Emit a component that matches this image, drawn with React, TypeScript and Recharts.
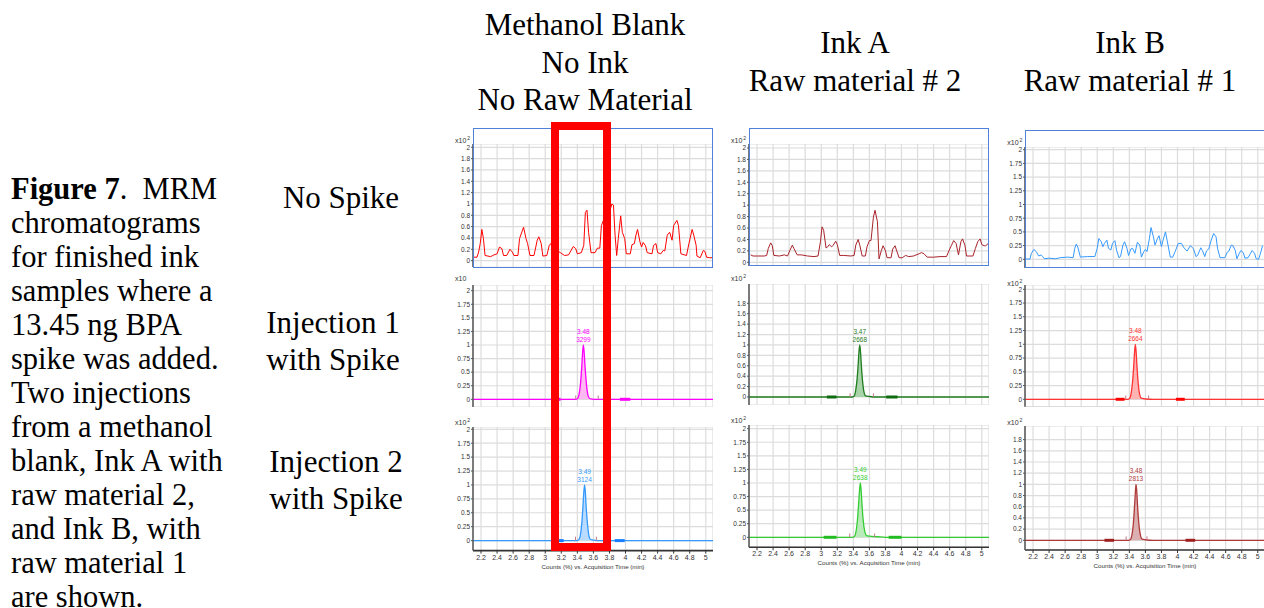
import React from 'react';
import { ComposedChart, Line, Area, XAxis, YAxis, CartesianGrid, ReferenceLine, ReferenceDot } from 'recharts';

type Pt = [number, number];

// axis ticks
const timeTicks = [2.2, 2.4, 2.6, 2.8, 3, 3.2, 3.4, 3.6, 3.8, 4, 4.2, 4.4, 4.6, 4.8, 5];
const countTicksFine = [0, 0.2, 0.4, 0.6, 0.8, 1, 1.2, 1.4, 1.6, 1.8, 2];
const countTicksQuarter = [0, 0.25, 0.5, 0.75, 1, 1.25, 1.5, 1.75, 2];
const countTicksShort = [0, 0.2, 0.4, 0.6, 0.8, 1, 1.2, 1.4, 1.6, 1.8];

// row 1 - no spike, [time (min), counts]
const blankNoSpike: Pt[] = [
  [2.11, 0.06], [2.15, 0.06], [2.17, 0.15], [2.19, 0.3], [2.21, 0.55], [2.23, 0.39], [2.25, 0.09], [2.32, 0.07],
  [2.36, 0.1], [2.4, 0.12], [2.43, 0.24], [2.46, 0.21], [2.48, 0.09], [2.52, 0.09], [2.56, 0.2], [2.59, 0.15],
  [2.61, 0.09], [2.66, 0.09], [2.68, 0.39], [2.73, 0.59], [2.76, 0.39], [2.78, 0.3], [2.81, 0.09], [2.86, 0.09],
  [2.9, 0.36], [2.92, 0.42], [2.95, 0.3], [2.97, 0.08], [3.02, 0.09], [3.05, 0.27], [3.07, 0.3], [3.09, 0.2],
  [3.14, 0.18], [3.19, 0.14], [3.24, 0.09], [3.29, 0.1], [3.35, 0.25], [3.38, 0.21], [3.4, 0.12], [3.45, 0.14],
  [3.48, 0.27], [3.5, 0.85], [3.52, 0.89], [3.54, 0.5], [3.57, 0.14], [3.62, 0.14], [3.65, 0.22], [3.68, 0.22],
  [3.7, 0.62], [3.73, 0.73], [3.79, 0.8], [3.83, 1.0], [3.85, 0.98], [3.87, 0.45], [3.89, 0.09], [3.91, 0.39],
  [3.94, 0.79], [3.96, 0.5], [3.99, 0.39], [4.01, 0.12], [4.06, 0.12], [4.08, 0.28], [4.11, 0.3], [4.13, 0.45],
  [4.15, 0.55], [4.18, 0.33], [4.2, 0.24], [4.22, 0.32], [4.25, 0.26], [4.27, 0.14], [4.33, 0.12], [4.35, 0.27],
  [4.38, 0.3], [4.4, 0.14], [4.44, 0.12], [4.47, 0.18], [4.49, 0.17], [4.52, 0.45], [4.55, 0.5], [4.58, 0.36],
  [4.6, 0.62], [4.64, 0.71], [4.66, 0.62], [4.69, 0.12], [4.76, 0.09], [4.79, 0.3], [4.83, 0.55], [4.85, 0.45],
  [4.88, 0.27], [4.89, 0.08], [4.93, 0.05], [4.97, 0.18], [4.99, 0.16], [5.01, 0.06], [5.05, 0.05], [5.09, 0.05],
];

const inkANoSpike: Pt[] = [
  [2.12, 0.13], [2.15, 0.11], [2.21, 0.11], [2.29, 0.11], [2.32, 0.12], [2.34, 0.24], [2.37, 0.34], [2.39, 0.29],
  [2.41, 0.12], [2.48, 0.11], [2.54, 0.13], [2.58, 0.11], [2.61, 0.21], [2.64, 0.3], [2.66, 0.24], [2.7, 0.13],
  [2.75, 0.13], [2.83, 0.11], [2.91, 0.1], [2.96, 0.11], [2.99, 0.36], [3.01, 0.62], [3.03, 0.56], [3.06, 0.25],
  [3.08, 0.27], [3.1, 0.31], [3.13, 0.27], [3.15, 0.3], [3.18, 0.37], [3.2, 0.31], [3.23, 0.12], [3.28, 0.12],
  [3.37, 0.11], [3.41, 0.12], [3.43, 0.3], [3.46, 0.4], [3.48, 0.3], [3.51, 0.11], [3.55, 0.11], [3.57, 0.27],
  [3.6, 0.38], [3.62, 0.38], [3.65, 0.79], [3.67, 0.91], [3.7, 0.71], [3.72, 0.06], [3.75, 0.21], [3.77, 0.29],
  [3.8, 0.2], [3.82, 0.08], [3.87, 0.08], [3.89, 0.23], [3.92, 0.29], [3.94, 0.2], [3.97, 0.08], [4.01, 0.08],
  [4.05, 0.12], [4.09, 0.1], [4.15, 0.11], [4.22, 0.15], [4.25, 0.17], [4.28, 0.15], [4.32, 0.09], [4.4, 0.09],
  [4.48, 0.1], [4.56, 0.1], [4.6, 0.23], [4.62, 0.29], [4.65, 0.38], [4.68, 0.33], [4.71, 0.13], [4.74, 0.36],
  [4.76, 0.41], [4.79, 0.3], [4.81, 0.11], [4.89, 0.11], [4.92, 0.24], [4.95, 0.36], [4.98, 0.41], [5.0, 0.31],
  [5.03, 0.29], [5.05, 0.29], [5.08, 0.33],
];

const inkBNoSpike: Pt[] = [
  [2.1, 0.01], [2.16, 0], [2.18, 0.11], [2.21, 0.18], [2.24, 0.14], [2.27, 0.06], [2.3, 0.08], [2.32, 0.05],
  [2.34, 0.01], [2.4, 0.02], [2.48, 0.01], [2.54, 0.03], [2.63, 0.04], [2.7, 0.03], [2.72, 0.2], [2.74, 0.28],
  [2.76, 0.21], [2.79, 0.04], [2.88, 0.05], [2.97, 0.05], [3.0, 0.2], [3.02, 0.38], [3.05, 0.32], [3.07, 0.23],
  [3.09, 0.29], [3.12, 0.35], [3.14, 0.2], [3.17, 0.17], [3.19, 0.29], [3.22, 0.34], [3.24, 0.17], [3.27, 0.03],
  [3.29, 0.05], [3.32, 0.26], [3.34, 0.32], [3.37, 0.2], [3.39, 0.07], [3.42, 0.19], [3.44, 0.2], [3.47, 0.11],
  [3.5, 0.31], [3.53, 0.26], [3.55, 0.04], [3.58, 0.14], [3.6, 0.18], [3.62, 0.14], [3.65, 0.38], [3.67, 0.58],
  [3.7, 0.41], [3.72, 0.26], [3.75, 0.38], [3.77, 0.43], [3.8, 0.23], [3.82, 0.35], [3.85, 0.5], [3.87, 0.35],
  [3.91, 0.04], [3.94, 0.04], [3.97, 0.14], [4.01, 0.29], [4.05, 0.29], [4.08, 0.21], [4.12, 0.15], [4.16, 0.25],
  [4.2, 0.19], [4.23, 0.05], [4.25, 0.07], [4.29, 0.21], [4.31, 0.16], [4.34, 0.05], [4.36, 0.15], [4.39, 0.19],
  [4.42, 0.35], [4.45, 0.47], [4.48, 0.41], [4.5, 0.19], [4.53, 0.03], [4.59, 0.03], [4.62, 0.13], [4.64, 0.15],
  [4.67, 0.26], [4.69, 0.25], [4.72, 0.16], [4.74, 0.01], [4.77, 0.11], [4.79, 0.16], [4.82, 0.12], [4.84, 0.02],
  [4.88, 0.03], [4.91, 0.11], [4.93, 0.16], [4.96, 0.11], [4.98, 0.01], [5.01, 0], [5.03, 0.09], [5.06, 0.25],
];

// rows 2-3 - spiked injections (BPA peak)
const blankInj1: Pt[] = [
  [2.1, 0], [3.38, 0], [3.4, 0.01], [3.42, 0.08], [3.44, 0.3], [3.455, 0.6], [3.465, 0.85], [3.475, 1],
  [3.485, 0.86], [3.495, 0.62], [3.51, 0.33], [3.53, 0.09], [3.55, 0.02], [3.58, 0.005], [3.65, 0], [5.09, 0],
];
const inkAInj1: Pt[] = [
  [2.1, 0], [3.385, 0], [3.405, 0.01], [3.425, 0.09], [3.445, 0.32], [3.46, 0.62], [3.47, 0.87], [3.48, 1],
  [3.49, 0.85], [3.5, 0.6], [3.515, 0.3], [3.535, 0.08], [3.555, 0.02], [3.6, 0.01], [3.68, 0], [5.09, 0],
];
const inkBInj1: Pt[] = [
  [2.1, 0], [3.38, 0], [3.4, 0.01], [3.42, 0.09], [3.44, 0.32], [3.455, 0.62], [3.465, 0.86], [3.475, 1],
  [3.485, 0.85], [3.495, 0.6], [3.51, 0.3], [3.53, 0.08], [3.55, 0.02], [3.6, 0.005], [3.7, 0], [5.09, 0],
];
const blankInj2: Pt[] = [
  [2.1, 0], [3.39, 0], [3.415, 0.01], [3.435, 0.08], [3.455, 0.3], [3.47, 0.62], [3.48, 0.86], [3.49, 1],
  [3.5, 0.87], [3.51, 0.6], [3.525, 0.32], [3.545, 0.08], [3.565, 0.02], [3.6, 0.01], [3.66, 0], [5.09, 0],
];
const inkAInj2: Pt[] = [
  [2.1, 0], [3.385, 0], [3.41, 0.01], [3.43, 0.08], [3.45, 0.3], [3.465, 0.6], [3.477, 0.86], [3.487, 1],
  [3.497, 0.87], [3.507, 0.62], [3.522, 0.32], [3.545, 0.09], [3.565, 0.03], [3.6, 0.02], [3.7, 0.01], [3.8, 0], [5.09, 0],
];
const inkBInj2: Pt[] = [
  [2.1, 0], [3.39, 0], [3.41, 0.01], [3.43, 0.08], [3.45, 0.3], [3.465, 0.62], [3.475, 0.86], [3.483, 1],
  [3.493, 0.86], [3.503, 0.6], [3.518, 0.3], [3.54, 0.08], [3.56, 0.02], [3.6, 0.01], [3.7, 0], [5.09, 0],
];

// peak annotations: apex time, label time, area, integration limits, noise regions
const peakApex = [3.475, 3.48, 3.475, 3.49, 3.487, 3.483];
const peakTimes = ['3.48', '3.47', '3.48', '3.49', '3.49', '3.48'];
const peakAreas = ['3299', '2668', '2664', '3124', '2638', '2813'];
const peakLimits: Pt[] = [[3.38, 3.66], [3.36, 3.65], [3.355, 3.64], [3.377, 3.637], [3.355, 3.665], [3.36, 3.62]];
const noiseRegions: Pt[][] = [
  [[3.08, 3.19], [3.93, 4.06]],
  [[3.07, 3.19], [3.81, 3.95]],
  [[3.23, 3.34], [3.98, 4.09]],
  [[3.1, 3.23], [3.865, 3.99]],
  [[3.03, 3.19], [3.84, 4.0]],
  [[3.09, 3.21], [4.1, 4.22]],
];

const columnTitles = [['Methanol Blank', 'No Ink', 'No Raw Material'], ['Ink A', 'Raw material # 2'], ['Ink B', 'Raw material # 1']];
const rowTitles = [['No Spike'], ['Injection 1', 'with Spike'], ['Injection 2', 'with Spike']];
const captionLines = [
  'chromatograms', 'for finished ink', 'samples where a', '13.45 ng BPA', 'spike was added.', 'Two injections',
  'from a methanol', 'blank, Ink A with', 'raw material 2,', 'and Ink B, with', 'raw material 1', 'are shown.',
];

const SERIF = "'Liberation Serif', 'Times New Roman', serif";
const SANS = "'Liberation Sans', Arial, sans-serif";
const PLOT_W = 240;
const AXIS_W = 26;
const X_DOMAIN: [number, number] = [2.1, 5.09];

type PanelSpec = {
  data: Pt[];
  color: string;
  fill?: string;
  band?: string;
  peak?: number; // index into peak annotations
  left: number;
  top: number;
  bottom: number;
  zero: number;
  tickPx: number;
  tickValue: number;
  ticks: number[];
  xAxis?: boolean;
  scaleY: number;
  exp: string;
};

const panels: PanelSpec[] = [
  { data: blankNoSpike, color: '#ff0000', left: 473, top: 143.7, bottom: 267, zero: 260.3, tickPx: 147, tickValue: 2, ticks: countTicksFine, scaleY: 137.7, exp: '2' },
  { data: inkANoSpike, color: '#a8232a', left: 749, top: 143.7, bottom: 265.7, zero: 262, tickPx: 147.7, tickValue: 2, ticks: countTicksFine, scaleY: 137.7, exp: '2' },
  { data: inkBNoSpike, color: '#3399ff', left: 1025.3, top: 147, bottom: 268.3, zero: 259.3, tickPx: 149.7, tickValue: 2, ticks: countTicksQuarter, scaleY: 140, exp: '2' },
  { data: blankInj1, color: '#ff00ff', fill: '#ffb8f2', band: '#ff00ff', peak: 0, left: 473, top: 285, bottom: 407, zero: 399.3, tickPx: 290.7, tickValue: 2, ticks: countTicksQuarter, scaleY: 279.3, exp: '' },
  { data: inkAInj1, color: '#1e7d1e', fill: '#a9d3a9', band: '#0f6b0f', peak: 1, left: 749, top: 284, bottom: 405, zero: 397, tickPx: 303.3, tickValue: 1.8, ticks: countTicksShort, scaleY: 276, exp: '2' },
  { data: inkBInj1, color: '#ff3333', fill: '#ffb3b3', band: '#ff0000', peak: 2, left: 1025.3, top: 285, bottom: 406.7, zero: 399.3, tickPx: 289.3, tickValue: 2, ticks: countTicksQuarter, scaleY: 280.7, exp: '2' },
  { data: blankInj2, color: '#3399ff', fill: '#b8dbff', band: '#1a7fff', peak: 3, left: 473, top: 426.7, bottom: 550.3, zero: 540.3, tickPx: 429, tickValue: 2, ticks: countTicksQuarter, xAxis: true, scaleY: 420, exp: '2' },
  { data: inkAInj2, color: '#33cc33', fill: '#b9ebb9', band: '#22bb22', peak: 4, left: 749, top: 425, bottom: 547.3, zero: 537.3, tickPx: 428.7, tickValue: 2, ticks: countTicksQuarter, xAxis: true, scaleY: 417.7, exp: '2' },
  { data: inkBInj2, color: '#b03a3a', fill: '#dcb0b0', band: '#a02020', peak: 5, left: 1025.3, top: 425.7, bottom: 549.7, zero: 540, tickPx: 439.3, tickValue: 1.8, ticks: countTicksShort, xAxis: true, scaleY: 420, exp: '2' },
];

// blue frames around the no-spike chromatograms [left, top, right, bottom]
const frames = [[473, 127.7, 713, 267.7], [748.7, 127.7, 988.7, 265.7], [1025.3, 130.3, 1275, 268.3]];

const PeakTag = ({ viewBox, time, area, color }: any) => {
  const x = viewBox.x + viewBox.width / 2;
  const y = viewBox.y + viewBox.height / 2;
  return (
    <text textAnchor="middle" fontSize={6.5} fontFamily={SANS} fill={color}>
      <tspan x={x} y={y - 11}>{time}</tspan>
      <tspan x={x} y={y - 3}>{area}</tspan>
    </text>
  );
};

const Panel = ({ p }: { p: PanelSpec }) => {
  const perUnit = (p.zero - p.tickPx) / p.tickValue;
  const domain: [number, number] = [-(p.bottom - p.zero) / perUnit, (p.zero - p.top) / perUnit];
  const axisH = p.xAxis ? 22 : 0;
  const data = p.data.map(([t, v]) => ({ t, v }));
  const k = p.peak;
  return (
    <div style={{ position: 'absolute', left: p.left - AXIS_W, top: p.top }}>
      <ComposedChart width={AXIS_W + PLOT_W} height={p.bottom - p.top + axisH} data={data} margin={{ top: 0, right: 0, bottom: 0, left: 0 }}>
        <CartesianGrid stroke="#dcdcdc" strokeWidth={1.2} />
        <XAxis
          dataKey="t" type="number" domain={X_DOMAIN} allowDataOverflow ticks={timeTicks} interval={0}
          hide={!p.xAxis} height={axisH} tickSize={3} tickMargin={1}
          tick={{ fontSize: 7, fill: '#333', fontFamily: SANS }}
          axisLine={{ stroke: '#333', strokeWidth: 1.6 }} tickLine={{ stroke: '#333' }}
          label={{ value: 'Counts (%) vs. Acquisition Time (min)', position: 'insideBottom', offset: 4, fontSize: 6.2, fill: '#333', fontFamily: SANS }}
        />
        <YAxis
          type="number" domain={domain} allowDataOverflow ticks={p.ticks} interval={0} width={AXIS_W}
          tickSize={2} tickMargin={1} tick={{ fontSize: 6.5, fill: '#333', fontFamily: SANS }}
          axisLine={{ stroke: '#555', strokeWidth: 1.5 }} tickLine={{ stroke: '#555' }}
        />
        {k === undefined ? (
          <Line type="linear" dataKey="v" stroke={p.color} strokeWidth={1} dot={false} isAnimationActive={false} />
        ) : (
          <Area type="monotone" dataKey="v" baseValue={0} stroke={p.color} strokeWidth={1.3} fill={p.fill} fillOpacity={1} dot={false} isAnimationActive={false} />
        )}
        {k !== undefined && noiseRegions[k].map(([a, b], i) => (
          <ReferenceLine key={'n' + i} segment={[{ x: a, y: 0 }, { x: b, y: 0 }]} stroke={p.band} strokeWidth={3} />
        ))}
        {k !== undefined && peakLimits[k].map((t, i) => (
          <ReferenceLine key={'e' + i} segment={[{ x: t, y: 0 }, { x: t, y: 0.07 }]} stroke="#c47a8a" strokeWidth={1} />
        ))}
        {k !== undefined && (
          <ReferenceDot x={peakApex[k]} y={1} r={1} fill="none" stroke="none"
            label={<PeakTag time={peakTimes[k]} area={peakAreas[k]} color={p.color} />} />
        )}
      </ComposedChart>
    </div>
  );
};

const textBlock = (lines: string[], cx: number, top: number, lh: number, key: string) => (
  <div key={key} style={{ position: 'absolute', left: cx - 160, top, width: 320, textAlign: 'center', fontFamily: SERIF, fontSize: 31, lineHeight: lh + 'px', color: '#000', whiteSpace: 'nowrap' }}>
    {lines.map((l, i) => <div key={i}>{l}</div>)}
  </div>
);

const colCenters = [585, 855, 1130];
const colTops = [6, 24, 24];
const rowCenters = [341, 333, 336];
const rowTops = [179, 304, 443];

export default function App() {
  return (
    <div style={{ position: 'absolute', left: 0, top: 0, width: 1264, height: 608, overflow: 'hidden', background: '#fff' }}>
      {columnTitles.map((c, i) => textBlock(c, colCenters[i], colTops[i], 37.5, 'c' + i))}
      {rowTitles.map((r, i) => textBlock(r, rowCenters[i], rowTops[i], 37, 'r' + i))}
      <div style={{ position: 'absolute', left: 11, top: 172, fontFamily: SERIF, fontSize: 30.5, lineHeight: '34px', color: '#000', whiteSpace: 'nowrap' }}>
        <div><b>Figure 7</b>.&nbsp; MRM</div>
        {captionLines.map((l, i) => <div key={i}>{l}</div>)}
      </div>
      {panels.map((p, i) => <Panel key={i} p={p} />)}
      {panels.map((p, i) => (
        <div key={'s' + i} style={{ position: 'absolute', left: p.left - 18, top: p.scaleY - 5, fontFamily: SANS, fontSize: 7, color: '#333', lineHeight: '10px', whiteSpace: 'nowrap' }}>
          x10{p.exp && <sup style={{ fontSize: 5, marginLeft: 1 }}>{p.exp}</sup>}
        </div>
      ))}
      {frames.map(([l, t, r, b], i) => (
        <div key={'f' + i} style={{ position: 'absolute', left: l, top: t, width: r - l, height: b - t, border: '1.5px solid #4f81d9', boxSizing: 'border-box' }} />
      ))}
      <div style={{ position: 'absolute', left: 551, top: 122, width: 60, height: 429, border: '8.5px solid #ff0000', boxSizing: 'border-box' }} />
    </div>
  );
}
